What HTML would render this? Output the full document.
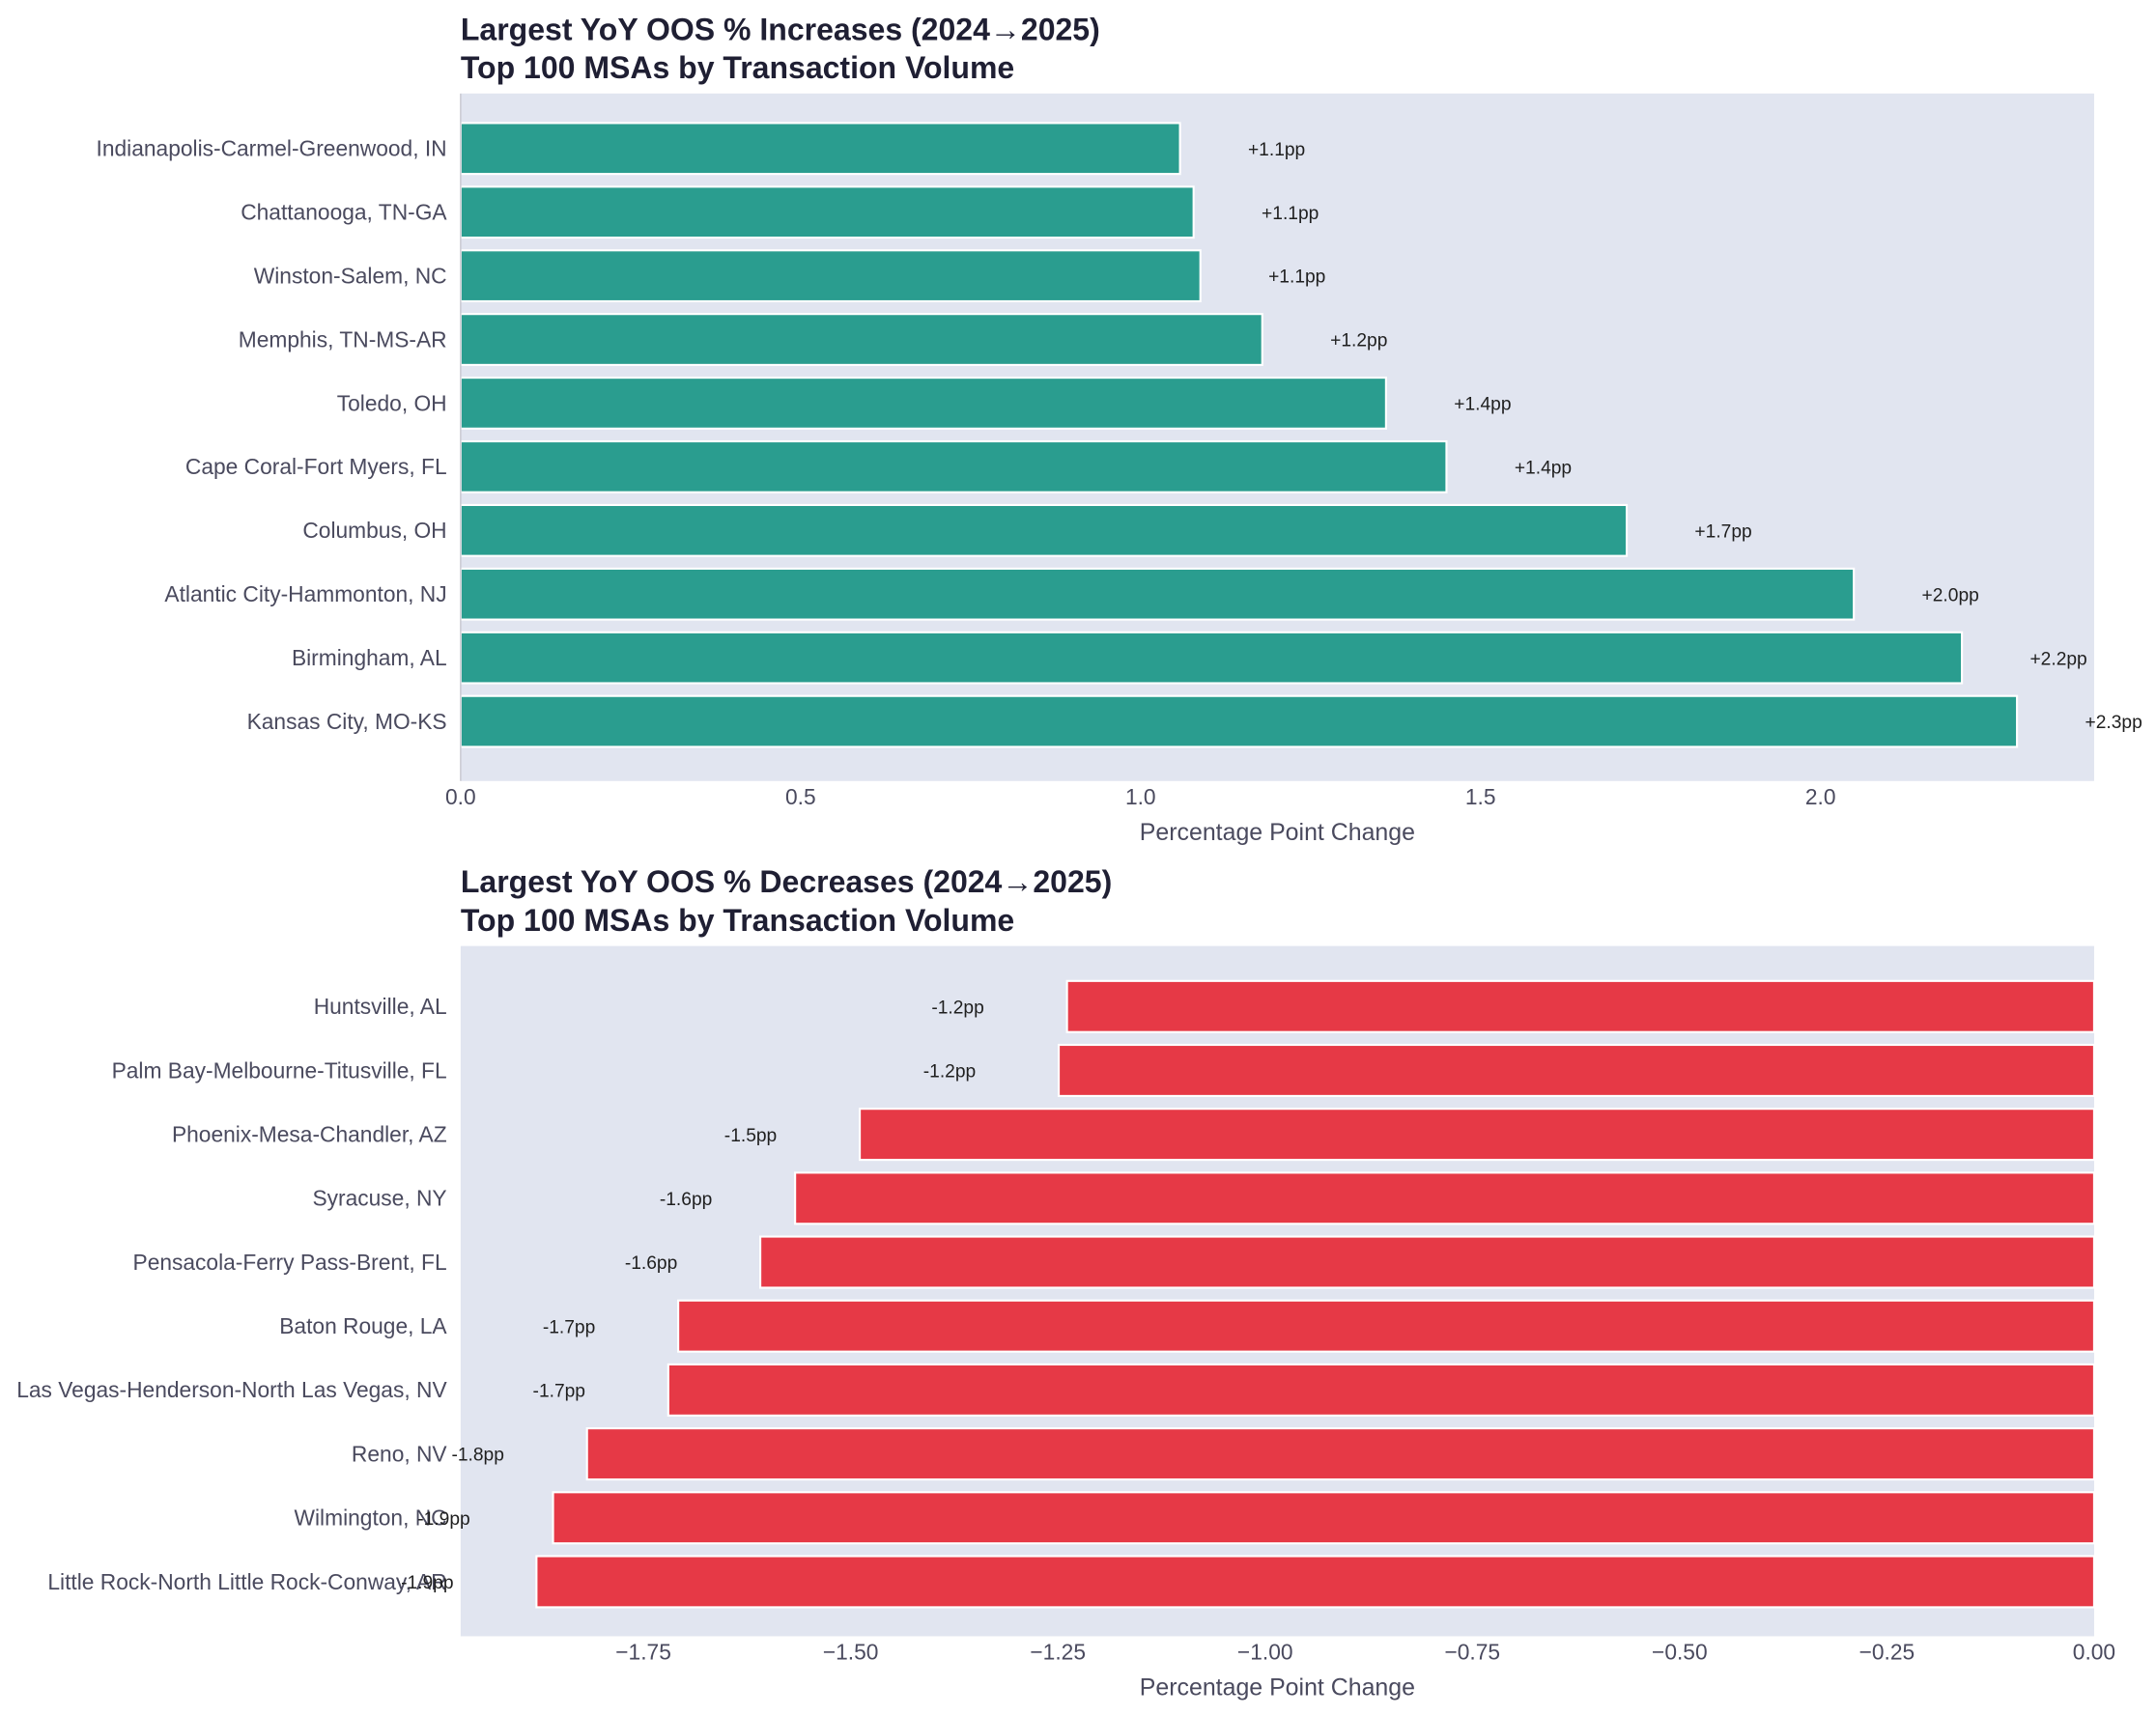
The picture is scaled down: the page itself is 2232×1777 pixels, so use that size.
<!DOCTYPE html>
<html><head><meta charset="utf-8"><style>
html,body{margin:0;padding:0;background:#fff}
svg{display:block;font-family:"Liberation Sans",Arial,sans-serif}
</style></head><body>
<svg id="chart" width="2232" height="1777" viewBox="0 0 1568 1248" preserveAspectRatio="none" xmlns="http://www.w3.org/2000/svg"></svg>
<script>
const incCategories = ["Indianapolis-Carmel-Greenwood, IN","Chattanooga, TN-GA","Winston-Salem, NC","Memphis, TN-MS-AR","Toledo, OH","Cape Coral-Fort Myers, FL","Columbus, OH","Atlantic City-Hammonton, NJ","Birmingham, AL","Kansas City, MO-KS"];
const incValues = [1.058,1.078,1.088,1.179,1.361,1.4499,1.715,2.049,2.208,2.289];
const incTicks = [0.0,0.5,1.0,1.5,2.0];
const incTickLabels = ["0.0","0.5","1.0","1.5","2.0"];
const decCategories = ["Huntsville, AL","Palm Bay-Melbourne-Titusville, FL","Phoenix-Mesa-Chandler, AZ","Syracuse, NY","Pensacola-Ferry Pass-Brent, FL","Baton Rouge, LA","Las Vegas-Henderson-North Las Vegas, NV","Reno, NV","Wilmington, NC","Little Rock-North Little Rock-Conway, AR"];
const decValues = [-1.239,-1.249,-1.489,-1.567,-1.609,-1.708,-1.720,-1.818,-1.859,-1.879];
const decTicks = [-1.75,-1.5,-1.25,-1.0,-0.75,-0.5,-0.25,0.0];
const decTickLabels = ["\u22121.75","\u22121.50","\u22121.25","\u22121.00","\u22120.75","\u22120.50","\u22120.25","0.00"];

const NS="http://www.w3.org/2000/svg";
const svg=document.getElementById('chart');
function mk(tag,attrs,parent){const e=document.createElementNS(NS,tag);for(const k in attrs)e.setAttribute(k,attrs[k]);(parent||svg).appendChild(e);return e;}

function panel(cfg){
  const g=mk('g',{});
  
  
  const L=335,R=1523,T=cfg.top,B=cfg.top+cfg.h;
  const bg=mk('rect',{x:L,y:T,width:R-L,height:B-T,fill:'#e1e5f0'},g);
  
  
  const sx=v=>L+(v-cfg.xmin)/(cfg.xmax-cfg.xmin)*(R-L);
  const n=cfg.cats.length;
  const step=(B-T)/(n+0.8);
  const sy=i=>T+cfg.first+i*step;
  const t1=mk('text',{x:L,y:T-39,'font-size':22.5,'font-weight':'bold',fill:'#1f1f33'},g);
  t1.textContent=cfg.title1;
  
  
  const t2=mk('text',{x:L,y:T-11,'font-size':22.5,'font-weight':'bold',fill:'#1f1f33'},g);
  t2.textContent='Top 100 MSAs by Transaction Volume';
  
  
  cfg.cats.forEach((c,i)=>{
    const v=cfg.vals[i], y=sy(i), h=step*0.8;
    const x0=sx(Math.min(0,v)), x1=sx(Math.max(0,v));
    const r=mk('rect',{x:x0,y:y-h/2,width:x1-x0,height:h,fill:cfg.color,stroke:'#fff','stroke-width':1.5},g);
    
    
    const lab=mk('text',{x:L-10,y:y+5.5,'text-anchor':'end','font-size':16,fill:'#4a4a5e'},g);
    lab.textContent=c;
    
    
    const vt=mk('text',{x:sx(v+(v>=0?0.1:-0.1)),y:y+5,'text-anchor':v>=0?'start':'end','font-size':13.5,fill:'#1f1f1f'},g);
    vt.textContent=(v>=0?'+':'-')+Math.abs(v).toFixed(1)+'pp';
    
    
  });
  cfg.ticks.forEach((t,i)=>{
    const tx=mk('text',{x:sx(t),y:B+17,'text-anchor':'middle','font-size':16,fill:'#4a4a5e'},g);
    tx.textContent=cfg.tickLabels[i];
    
    
  });
  const xl=mk('text',{x:(L+R)/2,y:B+43,'text-anchor':'middle','font-size':17.5,fill:'#4a4a5e'},g);
  xl.textContent='Percentage Point Change';
  
  
  if(cfg.spine){const s=mk('line',{x1:L,y1:T,x2:L,y2:B,stroke:'#c8c8d0','stroke-width':1},g);
    
    }
}
panel({name:'increases-panel',top:68,h:500,first:40,xmin:0,xmax:(1523-335)/494.5,cats:incCategories,vals:incValues,ticks:incTicks,tickLabels:incTickLabels,color:'#2a9d8f',title1:'Largest YoY OOS % Increases (2024\u21922025)',spine:true});
panel({name:'decreases-panel',top:688,h:502,first:44,xmin:-(1523-335)/602.9,xmax:0,cats:decCategories,vals:decValues,ticks:decTicks,tickLabels:decTickLabels,color:'#e63946',title1:'Largest YoY OOS % Decreases (2024\u21922025)',spine:false});
</script>
</body></html>
